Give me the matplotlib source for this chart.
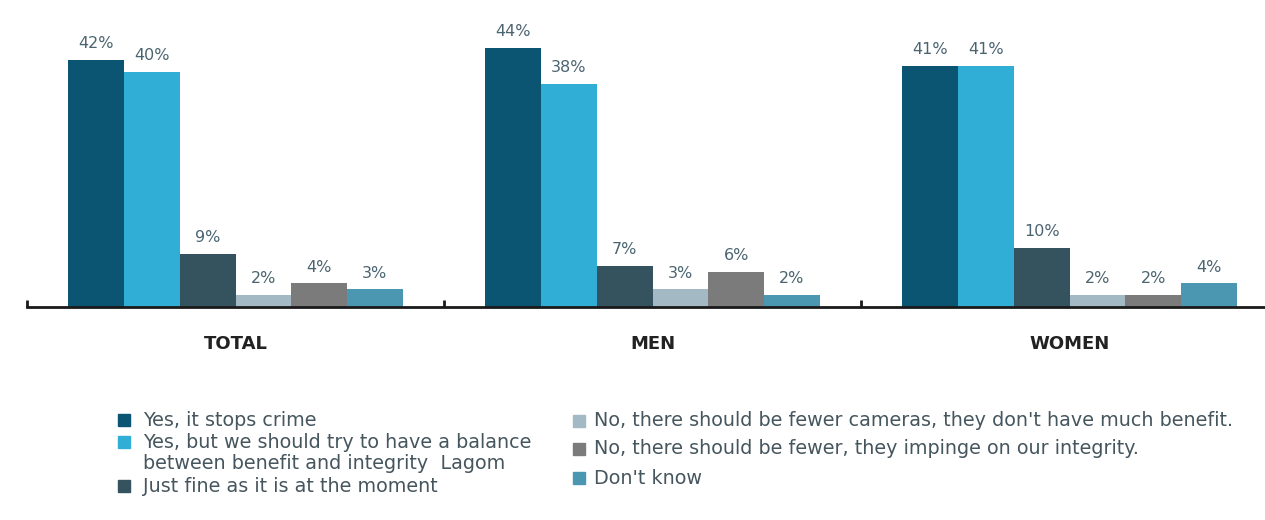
import matplotlib
matplotlib.use("Agg")
import matplotlib.pyplot as plt
from matplotlib.patches import Rectangle
import numpy as np

plt.rcParams['font.family'] = ['DejaVu Sans']

groups = ["TOTAL", "MEN", "WOMEN"]
answers = [
    "Yes, it stops crime",
    "Yes, but we should try to have a balance\nbetween benefit and integrity  Lagom",
    "Just fine as it is at the moment",
    "No, there should be fewer cameras, they don't have much benefit.",
    "No, there should be fewer, they impinge on our integrity.",
    "Don't know",
]
stops_crime = [42, 44, 41]
balance = [40, 38, 41]
just_fine = [9, 7, 10]
fewer_no_benefit = [2, 3, 2]
fewer_integrity = [4, 6, 2]
dont_know = [3, 2, 4]
series = [stops_crime, balance, just_fine, fewer_no_benefit, fewer_integrity, dont_know]
colors = ["#0b5572", "#31aed6", "#35535f", "#a3b9c3", "#7b7b7b", "#4b97b1"]

W, H = 1265, 520
fig = plt.figure(figsize=(W / 100, H / 100), dpi=100)
ax = fig.add_axes([27 / W, (H - 307) / H, 3 * 417 / W, 307 / H])

x = np.arange(len(groups))
bw = 0.1336
for i, (vals, col) in enumerate(zip(series, colors)):
    bars = ax.bar(x + (i - 2.5) * bw, vals, width=bw, color=col, linewidth=0)
    for b, v in zip(bars, vals):
        ax.text(b.get_x() + b.get_width() / 2, v + 2.0, f"{v}%",
                ha="center", va="baseline", fontsize=11.5, color="#4a6470")

ax.set_xlim(-0.5, 2.5)
ax.set_ylim(0, 52.2)
for s in ["top", "right", "left"]:
    ax.spines[s].set_visible(False)
ax.spines["bottom"].set_linewidth(2)
ax.spines["bottom"].set_color("#1a1a1a")
ax.set_yticks([])
ax.set_xticks(x)
ax.set_xticklabels(groups, fontsize=13, fontweight="bold", color="#222222")
ax.tick_params(axis="x", which="major", length=0, pad=20.5)
ax.set_xticks(np.arange(-0.5, 3, 1), minor=True)
ax.tick_params(axis="x", which="minor", direction="in", length=5, width=2, color="#1a1a1a")

# legend, two columns
def fx(px):
    return px / W

def fy(py):
    return (H - py) / H

legend_color = "#46565e"
legend_size = 13.8
left_rows = [(0, 420, 420), (1, 442, 453), (2, 486, 486)]
for idx, ysq, ytxt in left_rows:
    fig.patches.append(Rectangle((fx(118), fy(ysq + 6)), 12 / W, 12 / H,
                                 transform=fig.transFigure, color=colors[idx]))
    fig.text(fx(143), fy(ytxt), answers[idx], fontsize=legend_size,
             color=legend_color, va="center", ha="left", linespacing=1.08)

right_rows = [(3, 421), (4, 449), (5, 478)]
for idx, yc in right_rows:
    fig.patches.append(Rectangle((fx(573), fy(yc + 6)), 12 / W, 12 / H,
                                 transform=fig.transFigure, color=colors[idx]))
    fig.text(fx(594), fy(yc), answers[idx], fontsize=legend_size,
             color=legend_color, va="center", ha="left")

fig.savefig("out.png", dpi=100)
